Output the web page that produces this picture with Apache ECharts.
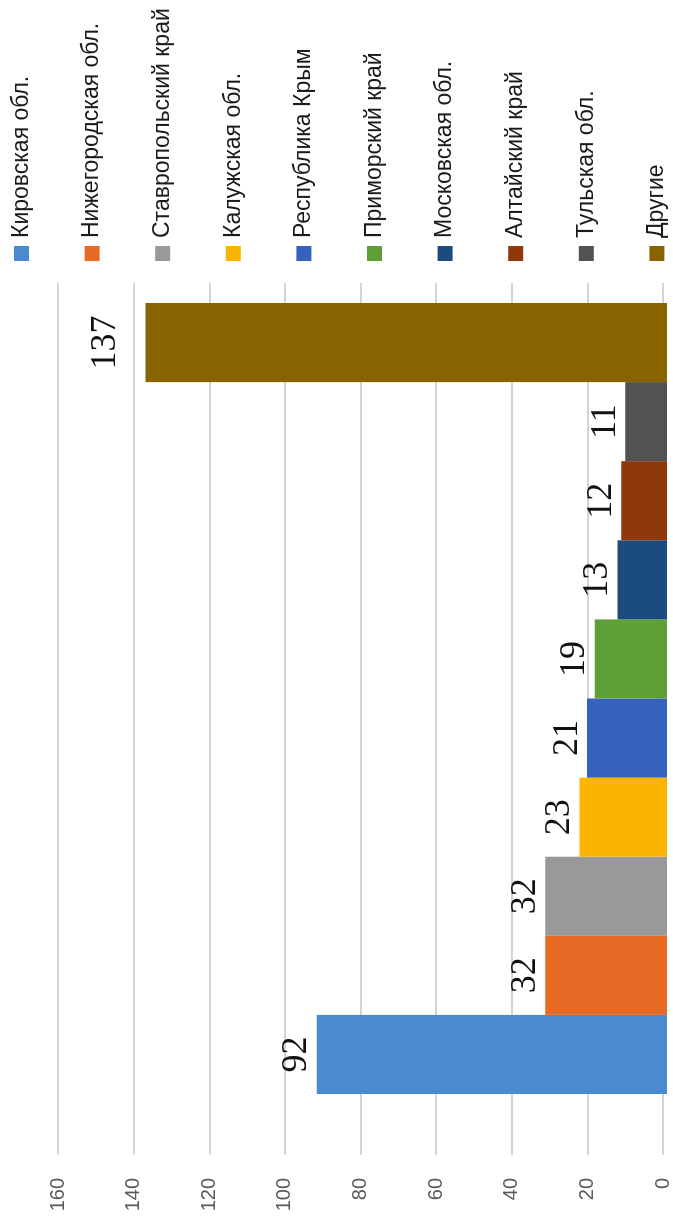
<!DOCTYPE html>
<html>
<head>
<meta charset="utf-8">
<script src="https://cdn.jsdelivr.net/npm/echarts@6/dist/echarts.min.js"></script>
<style>
  html, body { margin: 0; padding: 0; background: #fff; overflow: hidden; }
  #page { width: 673px; height: 1222px; position: relative; overflow: hidden; }
  /* chart is drawn upright, then turned a quarter left like the scan */
  #chart {
    position: absolute; left: 0; top: 0;
    width: 1222px; height: 673px;
    transform-origin: 0 0;
    transform: translateY(1222px) rotate(-90deg);
  }
</style>
</head>
<body>
<div id="page"><div id="chart"></div></div>
<script>
const regions = [
  "Кировская обл.", "Нижегородская обл.", "Ставропольский край", "Калужская обл.",
  "Республика Крым", "Приморский край", "Московская обл.", "Алтайский край",
  "Тульская обл.", "Другие"
];
const counts = [92, 32, 32, 23, 21, 19, 13, 12, 11, 137];
const colors = [
  "#4a8bcf", "#e86b25", "#999999", "#fdb400", "#3462bd",
  "#5f9f37", "#1b4b7f", "#8f380a", "#525252", "#886300"
];
const valueTicks = { min: 0, max: 160, interval: 20 };

const chart = echarts.init(document.getElementById("chart"));

const series = regions.map((name, i) => ({
  name: name,
  type: "bar",
  xAxisIndex: 1,
  yAxisIndex: 1,
  barGap: "0%",
  barCategoryGap: "0%",
  itemStyle: { color: colors[i] },
  label: {
    show: true,
    position: "top",
    distance: counts[i] > 100 ? 22 : 2,
    fontFamily: "Liberation Serif",
    fontSize: 36,
    color: "#111"
  },
  data: [counts[i]]
}));

chart.setOption({
  animation: false,
  backgroundColor: "#fff",
  grid: [
    { left: 67, right: 283, top: 58, bottom: 6 },
    { left: 128, width: 791, top: 58, bottom: 6 }
  ],
  xAxis: [
    { gridIndex: 0, type: "category", data: [""], show: false },
    { gridIndex: 1, type: "category", data: [""], show: false }
  ],
  yAxis: [
    {
      gridIndex: 0,
      type: "value",
      min: valueTicks.min,
      max: valueTicks.max,
      interval: valueTicks.interval,
      axisLine: { show: false },
      axisTick: { show: false },
      axisLabel: {
        margin: 23,
        fontFamily: "Liberation Sans",
        fontSize: 20,
        color: "#595959"
      },
      splitLine: { lineStyle: { color: "#d4d4d4", width: 2 } }
    },
    {
      gridIndex: 1,
      type: "value",
      min: valueTicks.min,
      max: valueTicks.max,
      interval: valueTicks.interval,
      show: false,
      splitLine: { show: false }
    }
  ],
  legend: {
    orient: "vertical",
    left: 961,
    top: 9.5,
    padding: 0,
    itemWidth: 15,
    itemHeight: 15,
    itemGap: 46.6,
    icon: "rect",
    data: regions,
    textStyle: {
      fontFamily: "Liberation Sans",
      fontSize: 23,
      lineHeight: 24,
      color: "#1a1a1a",
      padding: [0, 0, 0, 3]
    }
  },
  series: series
});
</script>
</body>
</html>
